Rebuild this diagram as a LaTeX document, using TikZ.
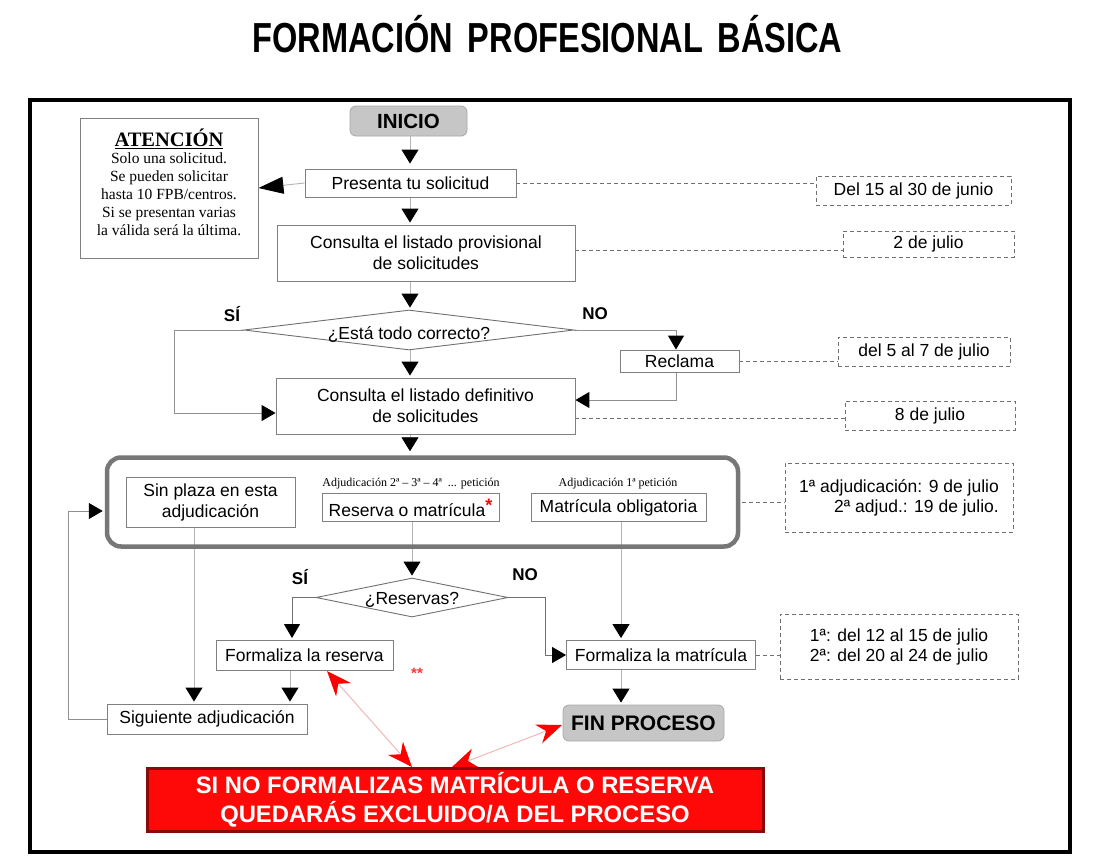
\documentclass[tikz,border=0pt]{standalone}
\usepackage{fontspec}
\setmainfont{Liberation Sans}
\newfontfamily\serifff{Liberation Serif}
\usetikzlibrary{arrows.meta,shapes.geometric,calc}
\pgfdeclarelayer{bg}
\pgfdeclarelayer{paper}
\pgfsetlayers{paper,bg,main}
\definecolor{lineg}{HTML}{B4B4B4}
\definecolor{boxg}{HTML}{808080}
\definecolor{dashg}{HTML}{707070}
\definecolor{startg}{HTML}{C6C6C6}
\definecolor{bigg}{HTML}{777777}
\definecolor{redfill}{HTML}{FF0808}
\definecolor{redborder}{HTML}{8A0A0A}
\definecolor{pinkline}{HTML}{F2B8B8}
\tikzset{
  box/.style={draw=boxg, line width=0.9pt, fill=white, inner sep=0pt, align=center,
    font=\fontsize{17.5}{21}\selectfont},
  startbox/.style={draw=startg!85!black, line width=0.8pt, fill=startg, rounded corners=6pt,
    inner sep=0pt, font=\fontsize{20.5}{24}\selectfont\bfseries},
  datebox/.style={draw=dashg, dash pattern=on 4pt off 3pt, line width=0.9pt, inner sep=0pt,
    align=center, font=\fontsize{17.5}{20}\selectfont},
  decision/.style={draw=dashg, line width=0.9pt, shape=diamond, fill=white, inner sep=0pt,
    font=\fontsize{17.5}{21}\selectfont},
  bigbox/.style={draw=bigg, line width=4.5pt, rounded corners=14pt, inner sep=0pt},
  yesno/.style={font=\fontsize{17}{20}\selectfont\bfseries},
  smalllab/.style={font=\serifff\fontsize{12}{14}\selectfont},
  arr/.style={draw=lineg, line width=0.9pt, shorten >=2pt, -{Triangle[length=14pt,width=17pt,color=black]}},
  arrd/.style={draw=dashg, line width=1pt, -{Triangle[length=14pt,width=16pt,color=black]}},
  dashc/.style={draw=dashg, line width=0.9pt, dash pattern=on 4pt off 3pt},
  redarr/.style={draw=pinkline, line width=1pt,
    {Stealth[length=25pt,width=20pt,inset=8pt,color=red]}-{Stealth[length=25pt,width=20pt,inset=8pt,color=red]}},
}
\begin{document}
\begin{tikzpicture}[x=1pt,y=-1pt]
\useasboundingbox (0,0) rectangle (1105,865);
\begin{pgfonlayer}{paper}
\fill[white] (0,0) rectangle (1105,865);
\end{pgfonlayer}

% title
\node[anchor=base, inner sep=0pt] (title) at (547.5,52)
  {\scalebox{0.775}[1]{\fontsize{42}{42}\selectfont\bfseries FORMACIÓN\hspace{0.45em}PROFESIONAL\hspace{0.45em}BÁSICA}};

% frame
\draw[line width=4pt] (30,100) rectangle (1070,852);

% nodes
\node[startbox, minimum width=117pt, minimum height=30pt] (inicio) at (408.5,121) {INICIO};
\node[box, minimum width=211pt, minimum height=28pt] (presenta) at (410.5,183) {Presenta tu solicitud};
\node[box, minimum width=178pt, minimum height=140pt] (atencion) at (169,188) {};
\node[inner sep=0pt, align=center, font=\serifff\fontsize{15.5}{18}\selectfont] (atencionT) at (169,182)
  {{\fontsize{20.5}{24}\selectfont\bfseries\underline{ATENCIÓN}}\\[-1pt]
   Solo una solicitud.\\ Se pueden solicitar\\ hasta 10 FPB/centros.\\ Si se presentan varias\\ la válida será la última.};
\node[datebox, minimum width=195pt, minimum height=29pt] (fecha1) at (913.5,190.5) {Del 15 al 30 de junio};
\node[box, minimum width=298pt, minimum height=56pt] (provisional) at (426,253)
  {Consulta el listado provisional\\de solicitudes};
\node[datebox, minimum width=171pt, minimum height=26pt] (fecha2) at (928.5,244) {2 de julio};
\node[decision, minimum width=330pt, minimum height=40pt, aspect=8.25] (d1) at (409,330)
  {\smash{\raisebox{-9pt}{¿Está todo correcto?}}};
\node[yesno] (si1) at (232,314) {SÍ};
\node[yesno] (no1) at (595,314) {NO};
\node[box, minimum width=119pt, minimum height=22pt] (reclama) at (679.5,361) {Reclama};
\node[datebox, minimum width=172pt, minimum height=29pt] (fecha3) at (924,351.5) {del 5 al 7 de julio};
\node[box, minimum width=299pt, minimum height=56pt] (defin) at (425.5,406)
  {Consulta el listado definitivo\\de solicitudes};
\node[datebox, minimum width=170pt, minimum height=29pt] (fecha4) at (930,415.5) {8 de julio};

\node[bigbox, minimum width=631pt, minimum height=89pt] (big) at (422.5,502) {};
\node[box, minimum width=169pt, minimum height=50pt] (sinplaza) at (210.5,502) {Sin plaza en esta\\adjudicación};
\node[smalllab] (lab2) at (411,484) {Adjudicación 2ª – 3ª – 4ª \ ... petición};
\node[box, minimum width=177pt, minimum height=28pt] (reserva) at (410.5,507.5)
  {Reserva o matrícula\raisebox{5pt}{\textcolor{red}{\fontsize{18}{18}\selectfont\bfseries *}}};
\node[smalllab] (lab1) at (618,484) {Adjudicación 1ª petición};
\node[box, minimum width=175pt, minimum height=28pt] (oblig) at (618.5,507.5) {Matrícula obligatoria};
\node[datebox, minimum width=228pt, minimum height=69pt, align=right] (fecha5) at (899,497.5)
  {1ª adjudicación: 9 de julio\\2ª adjud.: 19 de julio.};

\node[decision, minimum width=192pt, minimum height=39pt, aspect=4.9] (d2) at (412,597.5)
  {\smash{\raisebox{-6.5pt}{¿Reservas?}}};
\node[yesno] (si2) at (300,577) {SÍ};
\node[yesno] (no2) at (525,575) {NO};
\node[box, minimum width=177pt, minimum height=30pt] (freserva) at (304.5,655.5) {Formaliza la reserva};
\node[box, minimum width=189pt, minimum height=29pt] (fmat) at (661,655) {Formaliza la matrícula};
\node[datebox, minimum width=238pt, minimum height=65pt] (fecha6) at (899,646.5)
  {1ª: del 12 al 15 de julio\\2ª: del 20 al 24 de julio};
\node[text=red!80!white, font=\fontsize{15}{15}\selectfont\bfseries] (stars) at (417,673) {**};
\node[box, minimum width=200pt, minimum height=30pt] (siguiente) at (207,719) {Siguiente adjudicación};
\node[startbox, minimum width=161pt, minimum height=36pt, font=\fontsize{21}{24}\selectfont\bfseries] (fin) at (643.5,723) {FIN PROCESO};

\node[draw=redborder, line width=3pt, fill=redfill, minimum width=616pt, minimum height=63pt,
  inner sep=0pt, align=center, text=white, font=\fontsize{23.8}{29}\selectfont\bfseries] (red) at (455,800)
  {SI NO FORMALIZAS MATRÍCULA O RESERVA\\QUEDARÁS EXCLUIDO/A DEL PROCESO};

% coordinates
\coordinate (sp) at (410,0);
\coordinate (sil) at (174,413);
\coordinate (nor) at (676,330);
\coordinate (rr) at (676,400);
\coordinate (ll) at (68,511);
\coordinate (sx) at (194,0);
\coordinate (mx) at (621,0);
\coordinate (fx) at (290,0);
\coordinate (d2l) at (292,597.5);
\coordinate (d2r) at (545,597.5);
\coordinate (redA) at (327,671);
\coordinate (redB) at (412,767);
\coordinate (redC) at (452,767);
\coordinate (finL) at (562,725);

% connectors
\begin{pgfonlayer}{bg}
\draw[arr, shorten >=5pt] (inicio.south -| sp) -- (presenta.north -| sp);
\draw[draw=lineg, line width=0.9pt, -{Triangle[length=25pt,width=17pt,color=black]}] (presenta.west) -- (atencion.east);
\draw[dashc] (presenta.east) -- (presenta.east -| fecha1.west);
\draw[arr] (presenta.south -| sp) -- (provisional.north -| sp);
\draw[dashc] ([yshift=3pt]provisional.east) -- ([yshift=3pt]provisional.east -| fecha2.west);
\draw[arr] (provisional.south -| sp) -- (d1.north -| sp);
\draw[arrd, draw=lineg!80!black] (d1.west) -| (sil) -- (sil -| defin.west);
\draw[arrd, draw=lineg!80!black] (d1.east) -- (nor) -- (nor |- reclama.north);
\draw[arrd, draw=lineg!80!black] (nor |- reclama.south) -- (rr) -- (rr -| defin.east);
\draw[dashc] (reclama.east) -- (reclama.east -| fecha3.west);
\draw[arr] (d1.south -| sp) -- (defin.north -| sp);
\draw[dashc] ([yshift=-12pt]defin.east) -- ([yshift=-12pt]defin.east -| fecha4.west);
\draw[arr] (defin.south -| sp) -- ([yshift=2pt]big.north -| sp);
\draw[dashc] ([xshift=2pt]big.east) -- (big.east -| fecha5.west);
\draw[arrd, draw=lineg!80!black, shorten >=2pt] (siguiente.west) -| (ll) -- (ll -| big.west);
\draw[arr] (sinplaza.south -| sx) -- (siguiente.north -| sx);
\draw[arr] (reserva.south -| d2.north) -- (d2.north);
\draw[arr] (oblig.south -| mx) -- (fmat.north -| mx);
\draw[arrd, shorten >=2pt] (d2.west) -- (d2l) -- (d2l |- freserva.north);
\draw[arrd] (d2.east) -- (d2r) |- (fmat.west);
\draw[arr] (freserva.south -| fx) -- (siguiente.north -| fx);
\draw[arr] (fmat.south -| mx) -- (fin.north -| mx);
\draw[dashc] (fmat.east) -- (fmat.east -| fecha6.west);
\draw[redarr] (redA) -- (redB);
\draw[redarr] (finL) -- (redC);
\end{pgfonlayer}
\end{tikzpicture}
\end{document}
